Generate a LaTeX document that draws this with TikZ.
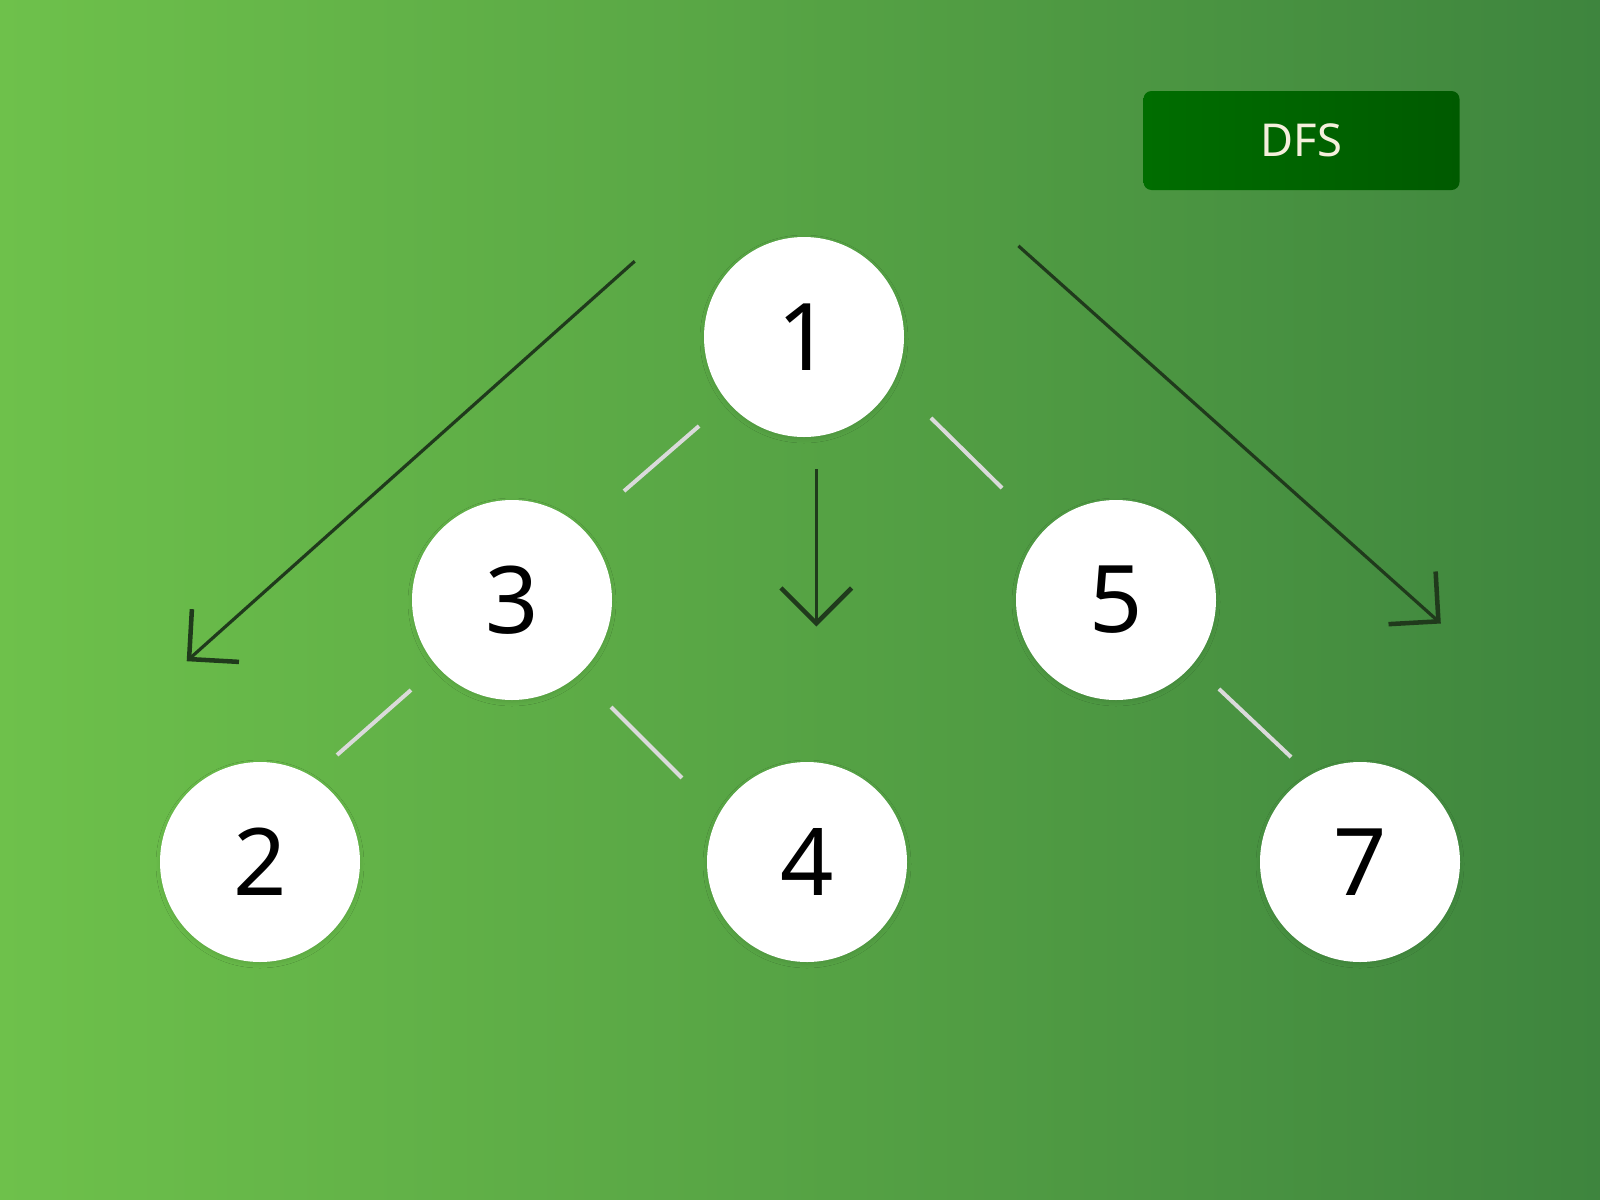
\documentclass[tikz,border=0pt]{standalone}
\usepackage{fontspec}
\setmainfont{Noto Sans}
\usetikzlibrary{arrows.meta,shadows.blur}

\begin{document}
\begin{tikzpicture}[x=0.75pt,y=0.75pt,yscale=-1,xscale=1,
  treenode/.style={circle, fill=white, inner sep=0pt, outer sep=0pt, minimum size=150pt, font=\fontsize{70}{84}\selectfont, blur shadow={shadow xshift=0pt, shadow yshift=-1.5pt, shadow blur radius=3pt, shadow opacity=9}},
  treeedge/.style={draw={rgb, 255:red, 218; green, 218; blue, 218 }, line width=3pt},
  dfsarrow/.style={draw={rgb, 255:red, 32; green, 58; blue, 28 }, line width=2.4pt, -{Straight Barb[length=26.5pt, width=53pt, line width'=3.4pt]}}
]
%uncomment if require: \path (0,1200); %set diagram left start at 0, and has height of 1200

%Shape: Rectangle (background)
\shade [left color={rgb, 255:red, 110; green, 193; blue, 75 }, right color={rgb, 255:red, 62; green, 133; blue, 62 }] (0,0) rectangle (1600,1200) ;

%Shape: Rounded Rectangle
\node (dfsbox) at (1301.5,140.5) [rounded corners=6pt, minimum width=237pt, minimum height=74.25pt, inner sep=0pt, left color={rgb, 255:red, 0; green, 109; blue, 0 }, right color={rgb, 255:red, 0; green, 90; blue, 0 }, text={rgb, 255:red, 245; green, 240; blue, 220 }, font=\fontsize{34}{40}\selectfont] {DFS};

%Shape: Circle
\node (n1) at (804,337) [treenode] {1};
\node (n3) at (512,600) [treenode] {3};
\node (n5) at (1116,600) [treenode] {5};
\node (n2) at (260,862) [treenode] {2};
\node (n4) at (807,862) [treenode] {4};
\node (n7) at (1360,862) [treenode] {7};

%Straight Lines
\draw [treeedge, shorten <=103.2pt, shorten >=117.2pt] ([shift={(-1,-1.1)}]n1.center) -- ([shift={(-6.1,-6.6)}]n3.center) ;
%Straight Lines
\draw [treeedge, shorten <=112.9pt, shorten >=119.8pt] ([shift={(19.8,-24.7)}]n1.center) -- ([shift={(-0.2,0.2)}]n5.center) ;
%Straight Lines
\draw [treeedge, shorten <=101.5pt, shorten >=98.9pt] ([shift={(0.6,0.7)}]n3.center) -- ([shift={(-22,-20)}]n2.center) ;
%Straight Lines
\draw [treeedge, shorten <=109.4pt, shorten >=113pt] ([shift={(-4.1,3.9)}]n3.center) -- ([shift={(-18.5,22.5)}]n4.center) ;
%Straight Lines
\draw [treeedge, shorten <=102.1pt, shorten >=94.2pt] ([shift={(4,-4.5)}]n5.center) -- ([shift={(22.4,-18.7)}]n7.center) ;

%Arrows
\coordinate (leftfrom) at (634.7,261.2);
\coordinate (leftto) at (186.7,661.2);
\coordinate (downfrom) at (816.3,469.4);
\coordinate (downto) at (816.3,626.5);
\coordinate (rightfrom) at (1018.4,245.9);
\coordinate (rightto) at (1440.8,623.5);
\draw [dfsarrow] (leftfrom) -- (leftto) ;
\draw [dfsarrow] (downfrom) -- (downto) ;
\draw [dfsarrow] (rightfrom) -- (rightto) ;

\end{tikzpicture}
\end{document}
